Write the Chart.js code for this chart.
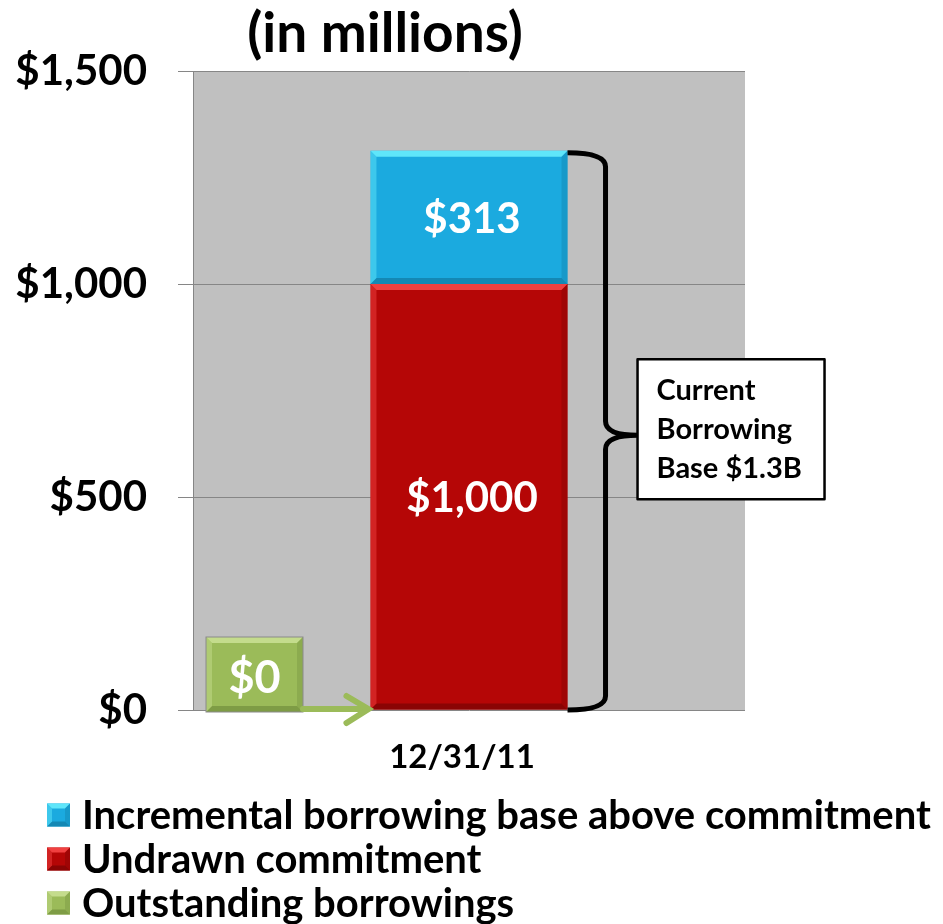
<!DOCTYPE html>
<html><head><meta charset="utf-8">
<script src="https://cdn.jsdelivr.net/npm/chart.js@4"></script>
<style>html,body{margin:0;padding:0;background:#fff}#wrap{width:943px;height:924px;position:relative}</style>
</head><body><div id="wrap"><canvas id="c" width="943" height="924"></canvas></div>
<script>
const categories = ['12/31/11'];
const outstanding = [0];
const undrawn = [1000];
const incremental = [313];
const yTicks = [0, 500, 1000, 1500];
const seriesLabels = ['Outstanding borrowings', 'Undrawn commitment', 'Incremental borrowing base above commitment'];
const titleText = '(in millions)';
const noteLines = ['Current', 'Borrowing', 'Base $1.3B'];

const FONT = 'Lato, "Liberation Sans", sans-serif';
const colors = {green:'#9BBB59', red:'#B50606', blue:'#1BAADF'};
const hi = {green:'#C4DC8C', red:'#F04040', blue:'#5FE6FA'};
const lo = {green:'#7E9C45', red:'#8A0404', blue:'#1488B4'};

function fmt(v){ return '$' + Number(v).toLocaleString('en-US'); }

function bevel(ctx, x0, y0, x1, y1, key, b){
  ctx.save();
  ctx.fillStyle = hi[key];
  ctx.beginPath(); ctx.moveTo(x0,y0); ctx.lineTo(x1,y0); ctx.lineTo(x1-b,y0+b); ctx.lineTo(x0+b,y0+b); ctx.closePath(); ctx.fill();
  ctx.fillStyle = lo[key];
  ctx.beginPath(); ctx.moveTo(x0,y1); ctx.lineTo(x1,y1); ctx.lineTo(x1-b,y1-b); ctx.lineTo(x0+b,y1-b); ctx.closePath(); ctx.fill();
  ctx.globalAlpha = 0.5;
  ctx.fillStyle = lo[key];
  ctx.beginPath(); ctx.moveTo(x1,y0); ctx.lineTo(x1,y1); ctx.lineTo(x1-b,y1-b); ctx.lineTo(x1-b,y0+b); ctx.closePath(); ctx.fill();
  ctx.fillStyle = hi[key];
  ctx.beginPath(); ctx.moveTo(x0,y0); ctx.lineTo(x0,y1); ctx.lineTo(x0+b,y1-b); ctx.lineTo(x0+b,y0+b); ctx.closePath(); ctx.fill();
  ctx.restore();
}

const deco = {
  id:'deco',
  beforeDraw(chart){
    const {ctx, chartArea:a} = chart;
    ctx.save(); ctx.fillStyle = '#C0C0C0'; ctx.fillRect(a.left, a.top, a.right-a.left, a.bottom-a.top); ctx.restore();
  },
  afterDatasetsDraw(chart){
    const ctx = chart.ctx, a = chart.chartArea, ys = chart.scales.y;
    const keys = ['green','red','blue'];
    [1,2].forEach(di=>{
      const el = chart.getDatasetMeta(di).data[0];
      const x0 = el.x - el.width/2, x1 = el.x + el.width/2;
      const top = Math.min(el.y, el.base), bot = Math.max(el.y, el.base);
      bevel(ctx, x0, top, x1, bot, keys[di], 6);
      ctx.save(); ctx.fillStyle='#fff'; ctx.font='bold 42px '+FONT; ctx.textAlign='center'; ctx.textBaseline='middle';
      ctx.fillText(fmt(chart.data.datasets[di].data[0]), el.x+3, (top+bot)/2 + 2);
      ctx.restore();
    });
    const redEl = chart.getDatasetMeta(1).data[0];
    const barL = redEl.x - redEl.width/2, barR = redEl.x + redEl.width/2;
    const y0 = ys.getPixelForValue(0);
    const gx0 = a.left+13, gx1 = a.left+110, gy0 = y0-73, gy1 = y0+2;
    ctx.save();
    ctx.fillStyle = colors.green; ctx.fillRect(gx0, gy0, gx1-gx0, gy1-gy0);
    bevel(ctx, gx0, gy0, gx1, gy1, 'green', 6);
    ctx.strokeStyle='#8a8a8a'; ctx.lineWidth=1; ctx.strokeRect(gx0, gy0, gx1-gx0, gy1-gy0);
    ctx.fillStyle='#fff'; ctx.font='bold 45px '+FONT; ctx.textAlign='center'; ctx.textBaseline='middle';
    ctx.fillText(fmt(chart.data.datasets[0].data[0]), (gx0+gx1)/2, (gy0+gy1)/2+4);
    ctx.strokeStyle = colors.green; ctx.lineWidth = 6; ctx.lineCap='round';
    ctx.beginPath(); ctx.moveTo(gx1, y0-1); ctx.lineTo(barL-4, y0-1); ctx.stroke();
    ctx.beginPath(); ctx.moveTo(barL-24, y0-14); ctx.lineTo(barL-2, y0-1); ctx.lineTo(barL-24, y0+13); ctx.stroke();
    ctx.restore();
    const yt = ys.getPixelForValue(undrawn[0]+incremental[0]);
    const ym = (yt + y0)/2 + 5;
    const bx = barR + 38, tip = barR + 70;
    ctx.save(); ctx.strokeStyle='#000'; ctx.lineWidth=5; ctx.lineJoin='round';
    ctx.beginPath();
    ctx.moveTo(barR, yt+2); ctx.quadraticCurveTo(bx, yt+2, bx, yt+16);
    ctx.lineTo(bx, ym-14); ctx.quadraticCurveTo(bx, ym, tip, ym);
    ctx.quadraticCurveTo(bx, ym, bx, ym+14);
    ctx.lineTo(bx, y0-14); ctx.quadraticCurveTo(bx, y0, barR, y0);
    ctx.stroke();
    const nx = tip, ny = ym-76, nw = 187, nh = 140;
    ctx.fillStyle='#fff'; ctx.fillRect(nx, ny, nw, nh);
    ctx.lineWidth=2.5; ctx.strokeRect(nx, ny, nw, nh);
    ctx.fillStyle='#000'; ctx.font='bold 29px '+FONT; ctx.textAlign='left'; ctx.textBaseline='middle';
    noteLines.forEach((t,i)=> ctx.fillText(t, nx+19, ny+31+i*39));
    ctx.restore();
  },
  afterDraw(chart){
    const ctx = chart.ctx;
    ctx.save();
    ctx.fillStyle='#000'; ctx.font='bold 55px '+FONT; ctx.textAlign='center'; ctx.textBaseline='middle';
    ctx.fillText(titleText, 385, 34);
    const order = [2,1,0], keys=['green','red','blue'];
    order.forEach((di,i)=>{
      const ds = chart.data.datasets[di];
      const cy = 815 + i*44;
      const sx = 47, s = 23;
      ctx.fillStyle = ds.backgroundColor; ctx.fillRect(sx, cy-s/2, s, s);
      bevel(ctx, sx, cy-s/2, sx+s, cy+s/2, keys[di], 5);
      ctx.fillStyle='#000'; ctx.font='bold 40px '+FONT; ctx.textAlign='left'; ctx.textBaseline='middle';
      ctx.fillText(ds.label, 82, cy+1);
    });
    ctx.restore();
  }
};

new Chart(document.getElementById('c'), {
  type:'bar',
  data:{
    labels: categories,
    datasets:[
      {label: seriesLabels[0], data: outstanding, backgroundColor: colors.green},
      {label: seriesLabels[1], data: undrawn, backgroundColor: colors.red},
      {label: seriesLabels[2], data: incremental, backgroundColor: colors.blue}
    ]
  },
  options:{
    responsive:false, animation:false,
    layout:{padding:{left:0, right:198, top:71, bottom:0}},
    datasets:{bar:{categoryPercentage:1, barPercentage:0.357}},
    plugins:{legend:{display:false}, title:{display:false}, tooltip:{enabled:false}},
    scales:{
      x:{stacked:true,
         grid:{display:false, drawTicks:false},
         border:{display:false},
         ticks:{font:{family:FONT, size:33, weight:'bold'}, color:'#000', padding:28, labelOffset:-7},
         afterFit(s){ s.height = 214; }
      },
      y:{stacked:true, min:0, max:1500,
         afterBuildTicks(s){ s.ticks = yTicks.map(v=>({value:v})); },
         grid:{color:'#868686', lineWidth:1, tickLength:15, drawTicks:true},
         border:{display:true, color:'#868686', width:1},
         ticks:{font:{family:FONT, size:42, weight:'bold'}, color:'#000', padding:31, callback:v=>fmt(v)},
         afterFit(s){ s.width = 193; }
      }
    }
  },
  plugins:[deco]
});
</script></body></html>
